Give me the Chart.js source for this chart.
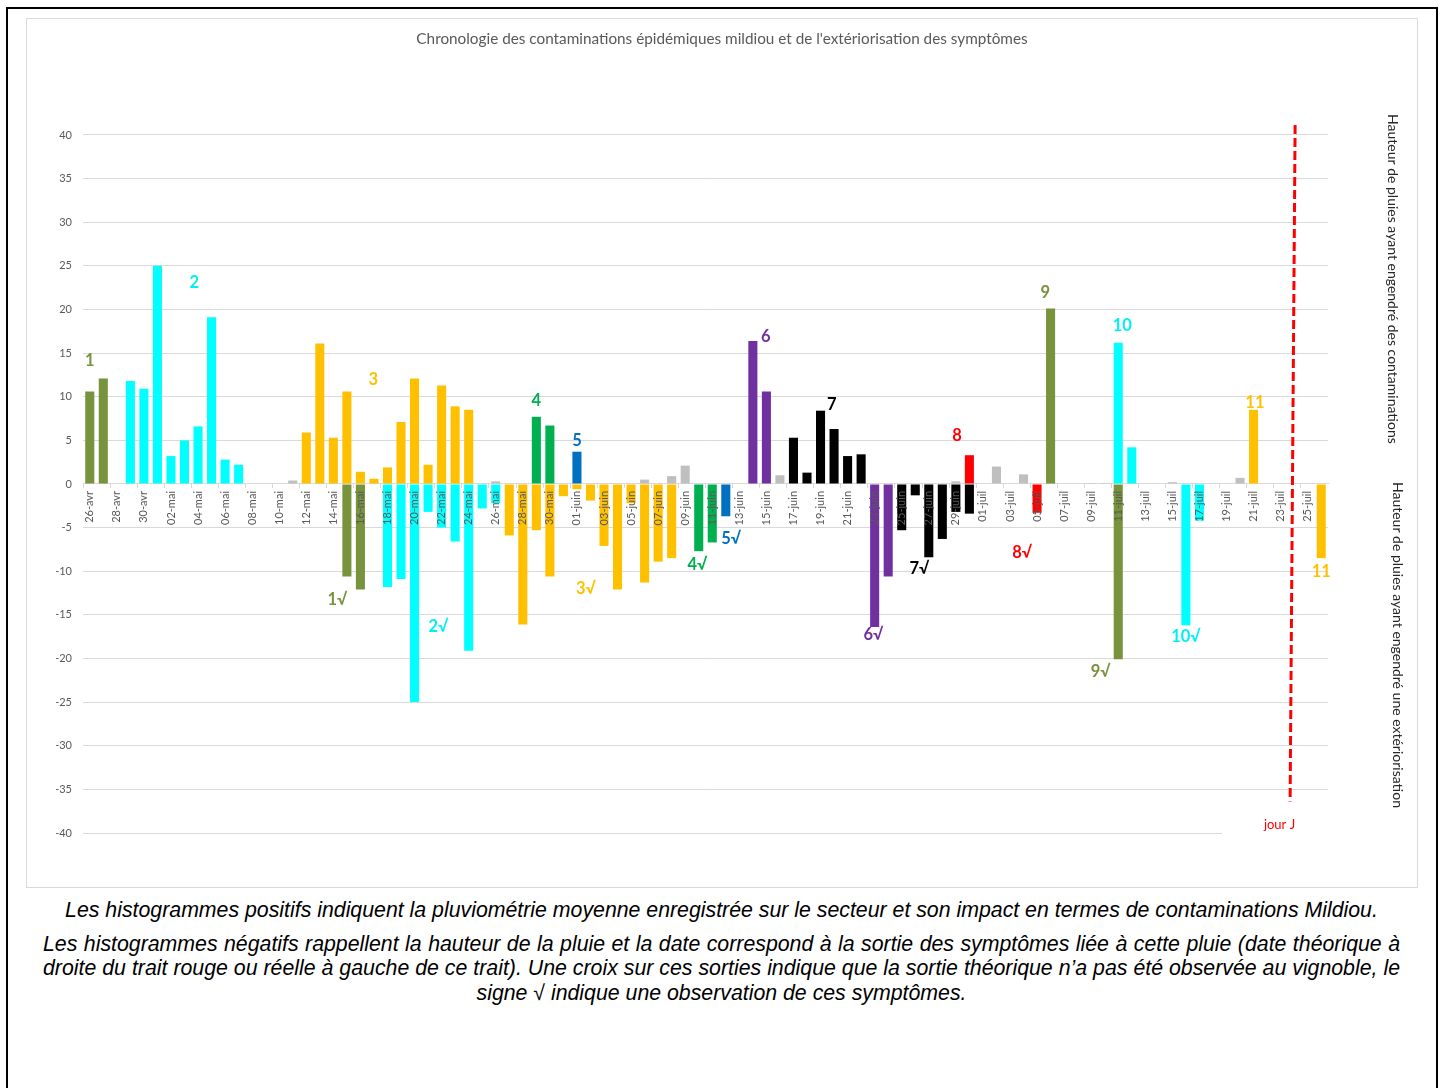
<!DOCTYPE html>
<html>
<head>
<meta charset="utf-8">
<script src="https://cdn.jsdelivr.net/npm/chart.js@4.4.1/dist/chart.umd.min.js"></script>
<style>
html,body{margin:0;padding:0;background:#fff;width:1443px;height:1088px;overflow:hidden;}
#outer{position:absolute;left:6px;top:7px;width:1428px;height:1100px;border:2px solid #000;}
#frame{position:absolute;left:26px;top:18px;width:1392px;height:870px;border:1px solid #D9D9D9;box-sizing:border-box;}
#wrap{position:absolute;left:26px;top:18px;width:1392px;height:870px;}
#caption{position:absolute;left:43px;top:898px;width:1357px;font-family:"Liberation Sans",Arial,sans-serif;font-style:italic;font-size:21.3px;line-height:24.5px;color:#000;}
#caption p{margin:0;}
#caption .p1{text-align:center;}
#caption .p2{margin-top:9px;text-align:justify;text-align-last:center;}
</style>
</head>
<body>
<div id="outer"></div>
<div id="frame"></div>
<div id="wrap"><canvas id="c"></canvas></div>
<div id="caption">
<p class="p1">Les histogrammes positifs indiquent la pluviométrie moyenne enregistrée sur le secteur et son impact en termes de contaminations Mildiou.</p>
<p class="p2">Les histogrammes négatifs rappellent la hauteur de la pluie et la date correspond à la sortie des symptômes liée à cette pluie (date théorique à droite du trait rouge ou réelle à gauche de ce trait). Une croix sur ces sorties indique que la sortie théorique n’a pas été observée au vignoble, le signe √ indique une observation de ces symptômes.</p>
</div>
<script>
// ---------- DATA ----------
const dates = [
 '26-avr','27-avr','28-avr','29-avr','30-avr',
 '01-mai','02-mai','03-mai','04-mai','05-mai','06-mai','07-mai','08-mai','09-mai','10-mai',
 '11-mai','12-mai','13-mai','14-mai','15-mai','16-mai','17-mai','18-mai','19-mai','20-mai',
 '21-mai','22-mai','23-mai','24-mai','25-mai','26-mai','27-mai','28-mai','29-mai','30-mai','31-mai',
 '01-juin','02-juin','03-juin','04-juin','05-juin','06-juin','07-juin','08-juin','09-juin','10-juin',
 '11-juin','12-juin','13-juin','14-juin','15-juin','16-juin','17-juin','18-juin','19-juin','20-juin',
 '21-juin','22-juin','23-juin','24-juin','25-juin','26-juin','27-juin','28-juin','29-juin','30-juin',
 '01-juil','02-juil','03-juil','04-juil','05-juil','06-juil','07-juil','08-juil','09-juil','10-juil',
 '11-juil','12-juil','13-juil','14-juil','15-juil','16-juil','17-juil','18-juil','19-juil','20-juil',
 '21-juil','22-juil','23-juil','24-juil','25-juil','26-juil'
];

// positive bars: rainfall (mm)
const rain = [
 10.6, 12.1, 0, 11.8, 10.9, 25.0, 3.2, 5.0, 6.6, 19.1,
 2.8, 2.2, 0, 0, 0, 0.4, 5.9, 16.1, 5.3, 10.6,
 1.4, 0.6, 1.9, 7.1, 12.1, 2.2, 11.3, 8.9, 8.5, 0,
 0.3, 0, 0, 7.7, 6.7, 0, 3.7, 0, 0, 0,
 0, 0.5, 0, 0.9, 2.1, 0, 0, 0, 0, 16.4,
 10.6, 1.0, 5.3, 1.3, 8.4, 6.3, 3.2, 3.4, 0, 0,
 0, 0, 0, 0, 0.3, 3.3, 0, 2.0, 0, 1.1,
 0, 20.1, 0, 0, 0.1, 0.1, 16.2, 4.2, 0, 0,
 0.2, 0, 0, 0, 0, 0.7, 8.5, 0, 0, 0,
 0, 0
];
// contamination episode of each rainfall (0 = no contamination)
const rainEpisode = [
 1,1,0,2,2,2,2,2,2,2,
 2,2,0,0,0,0,3,3,3,3,
 3,3,3,3,3,3,3,3,3,0,
 0,0,0,4,4,0,5,0,0,0,
 0,0,0,0,0,0,0,0,0,6,
 6,0,7,7,7,7,7,7,0,0,
 0,0,0,0,0,8,0,0,0,0,
 0,9,0,0,0,0,10,10,0,0,
 0,0,0,0,0,0,11,0,0,0,
 0,0
];
// negative bars: rainfall recalled at the date symptoms come out
const symptoms = [
 0,0,0,0,0,0,0,0,0,0,
 0,0,0,0,0,0,0,0,0,-10.6,
 -12.1,0,-11.8,-10.9,-25.0,-3.2,-5.0,-6.6,-19.1,-2.8,
 -2.2,-5.9,-16.1,-5.3,-10.6,-1.4,-0.6,-1.9,-7.1,-12.1,
 -2.2,-11.3,-8.9,-8.5,0,-7.7,-6.7,-3.7,0,0,
 0,0,0,0,0,0,0,0,-16.4,-10.6,
 -5.3,-1.3,-8.4,-6.3,-3.2,-3.4,0,0,0,0,
 -3.3,0,0,0,0,0,-20.1,0,0,0,
 0,-16.2,-4.2,0,0,0,0,0,0,0,
 0,-8.5
];
const symptomEpisode = [
 0,0,0,0,0,0,0,0,0,0,
 0,0,0,0,0,0,0,0,0,1,
 1,0,2,2,2,2,2,2,2,2,
 2,3,3,3,3,3,3,3,3,3,
 3,3,3,3,0,4,4,5,0,0,
 0,0,0,0,0,0,0,0,6,6,
 7,7,7,7,7,7,0,0,0,0,
 8,0,0,0,0,0,9,0,0,0,
 0,10,10,0,0,0,0,0,0,0,
 0,11
];
const yTicks = { min: -40, max: 40, step: 5 };
const jourJDate = '24-juil';

// text labels (episode numbers), placed by day index and value
const episodeLabels = [
 {text:'1',  at:0.0,  y:14.1, ep:1},
 {text:'2',  at:7.72, y:23.1, ep:2},
 {text:'3',  at:20.95,y:11.9, ep:3},
 {text:'4',  at:33.0, y:9.5,  ep:4},
 {text:'5',  at:36.0, y:5.0,  ep:5},
 {text:'6',  at:49.96,y:16.9, ep:6},
 {text:'7',  at:54.84,y:9.1,  ep:7},
 {text:'8',  at:64.08,y:5.5,  ep:8},
 {text:'9',  at:70.6, y:21.9, ep:9},
 {text:'10', at:76.3, y:18.2, ep:10},
 {text:'11', at:86.1, y:9.3,  ep:11},
 {text:'1√', at:18.3, y:-13.3,ep:1},
 {text:'2√', at:25.76,y:-16.3,ep:2},
 {text:'3√', at:36.66,y:-12.0,ep:3},
 {text:'4√', at:44.9, y:-9.2, ep:4},
 {text:'5√', at:47.4, y:-6.3, ep:5},
 {text:'6√', at:57.9, y:-17.3,ep:6},
 {text:'7√', at:61.3, y:-9.7, ep:7},
 {text:'8√', at:68.9, y:-7.9, ep:8},
 {text:'9√', at:74.7, y:-21.5,ep:9},
 {text:'10√',at:81.0, y:-17.5,ep:10},
 {text:'11', at:91.0, y:-10.1,ep:11}
];

// ---------- STYLE ----------
const palette = {0:'#BFBFBF',1:'#77933C',2:'#00FFFF',3:'#FFC000',4:'#00B050',5:'#0070C0',
                 6:'#7030A0',7:'#000000',8:'#FF0000',9:'#77933C',10:'#00FFFF',11:'#FFC000'};
const labelColor = {...palette, 2:'#00F0F0', 10:'#00F0F0'};

Chart.defaults.font.family = 'Lato, "Open Sans", sans-serif';

const overlay = {
  id: 'overlay',
  afterDraw(chart) {
    const {ctx, chartArea: a, scales: {x, y}} = chart;
    ctx.save();
    // episode labels
    ctx.font = 'bold 16.5px Lato, "DejaVu Sans", sans-serif';
    ctx.textAlign = 'center';
    ctx.textBaseline = 'middle';
    episodeLabels.forEach(l => {
      ctx.fillStyle = labelColor[l.ep];
      ctx.fillText(l.text, x.getPixelForValue(l.at), y.getPixelForValue(l.y));
    });
    // jour J
    const j = dates.indexOf(jourJDate);
    const yb = y.getPixelForValue(yTicks.min);
    ctx.fillStyle = '#fff';
    ctx.fillRect(x.getPixelForValue(j) - 72, yb - 2, a.right - x.getPixelForValue(j) + 74, 4);
    ctx.strokeStyle = '#FF0000';
    ctx.lineWidth = 3;
    ctx.setLineDash([9, 4]);
    ctx.beginPath();
    ctx.moveTo(x.getPixelForValue(j + 0.07), y.getPixelForValue(41.15));
    ctx.lineTo(x.getPixelForValue(j - 0.3), y.getPixelForValue(-36.4));
    ctx.stroke();
    ctx.setLineDash([]);
    ctx.fillStyle = '#FF0000';
    ctx.font = '13px Lato, sans-serif';
    ctx.textAlign = 'right';
    ctx.fillText('jour J', x.getPixelForValue(j) + 1, y.getPixelForValue(-39.1));
    // right titles
    ctx.fillStyle = '#262626';
    ctx.font = '14px Lato, sans-serif';
    ctx.textAlign = 'center';
    const drawV = (txt, cx, cy) => {
      ctx.save();
      ctx.translate(cx, cy);
      ctx.rotate(Math.PI / 2);
      ctx.fillText(txt, 0, 0);
      ctx.restore();
    };
    drawV('Hauteur de pluies ayant engendré des contaminations', a.right + 65, y.getPixelForValue(23.5));
    drawV('Hauteur de pluies ayant engendré une extériorisation', a.right + 70, y.getPixelForValue(-18.45));
    ctx.restore();
  }
};

new Chart(document.getElementById('c'), {
  type: 'bar',
  data: {
    labels: dates,
    datasets: [
      { label: 'Pluies contaminantes', data: rain,
        backgroundColor: rainEpisode.map(e => palette[e]),
        barPercentage: 0.67, categoryPercentage: 1, borderWidth: 0 },
      { label: 'Sorties de symptômes', data: symptoms.map(v => v === 0 ? null : v),
        backgroundColor: symptomEpisode.map(e => palette[e]),
        barPercentage: 0.67, categoryPercentage: 1, borderWidth: 0 }
    ]
  },
  options: {
    responsive: true,
    maintainAspectRatio: false,
    animation: false,
    layout: { padding: { left: 0, right: 0, top: 0, bottom: 55 } },
    plugins: {
      legend: { display: false },
      tooltip: { enabled: false },
      title: {
        display: true,
        text: "Chronologie des contaminations épidémiques mildiou et de l'extériorisation des symptômes",
        color: '#595959',
        font: { size: 15.3, weight: 'normal', lineHeight: 1.2 },
        padding: { top: 12, bottom: 86.6 }
      }
    },
    scales: {
      x: {
        stacked: true,
        position: { y: 0 },
        offset: true,
        border: { display: true, color: '#D9D9D9', width: 1 },
        grid: {
          offset: true,
          drawOnChartArea: false,
          drawTicks: true,
          tickLength: 4,
          color: ctx => (ctx.index % 2 === 0 ? '#D9D9D9' : 'rgba(0,0,0,0)')
        },
        ticks: {
          z: 1,
          autoSkip: false,
          minRotation: 90,
          maxRotation: 90,
          padding: 3,
          color: '#595959',
          font: { size: 11 },
          callback: (v, i) => (i % 2 === 0 ? dates[i] : '')
        }
      },
      y: {
        stacked: true,
        min: yTicks.min,
        max: yTicks.max,
        afterFit: s => { s.width = 57; },
        border: { display: false },
        grid: { color: '#D9D9D9', drawTicks: false, lineWidth: 1 },
        ticks: { stepSize: yTicks.step, padding: 11, color: '#595959', font: { size: 11 } }
      },
      yRight: {
        position: 'right',
        display: true,
        afterFit: s => { s.width = 90; },
        border: { display: false },
        grid: { display: false, drawTicks: false },
        ticks: { display: false }
      }
    }
  },
  plugins: [overlay]
});
</script>
</body>
</html>
